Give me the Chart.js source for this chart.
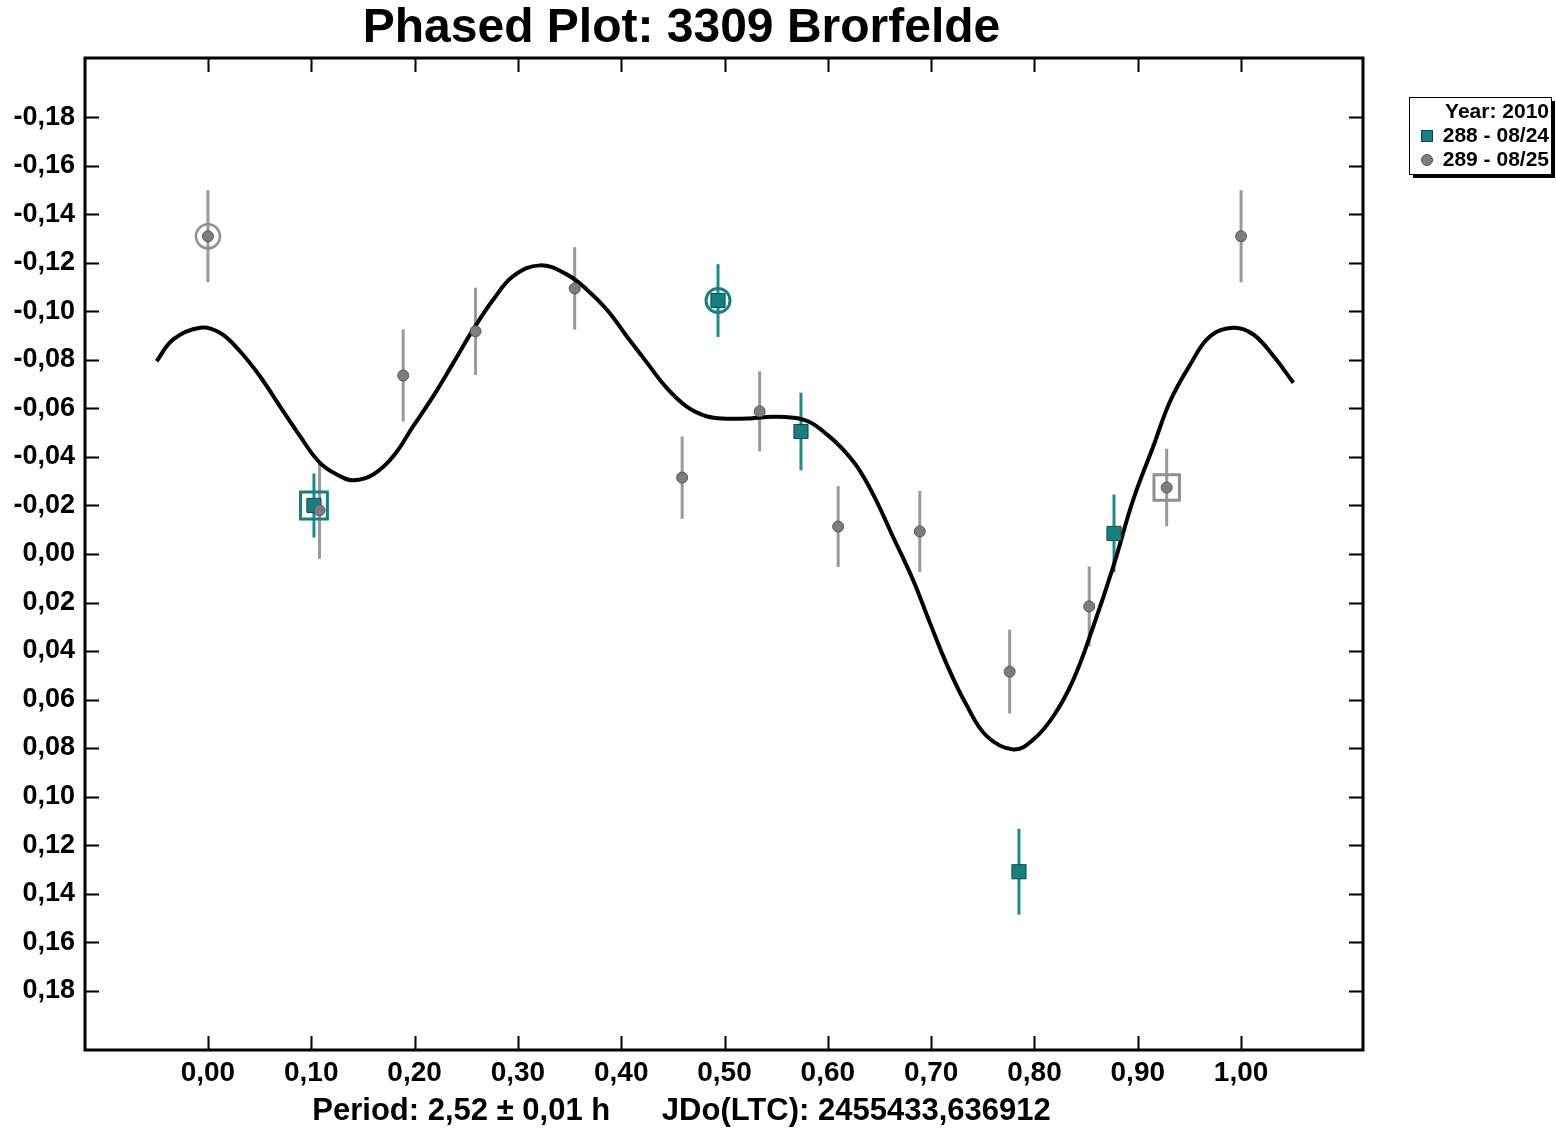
<!DOCTYPE html>
<html>
<head>
<meta charset="utf-8">
<script src="https://cdn.jsdelivr.net/npm/chart.js"></script>
<style>
  html, body { margin: 0; padding: 0; background: #fff; }
  #wrap { width: 1556px; height: 1128px; }
</style>
</head>
<body>
<div id="wrap"><canvas id="myChart" width="1556" height="1128"></canvas></div>
<script>
// data
const xTicks = [0, 0.1, 0.2, 0.3, 0.4, 0.5, 0.6, 0.7, 0.8, 0.9, 1.0];
const yTicks = [-0.18, -0.16, -0.14, -0.12, -0.10, -0.08, -0.06, -0.04, -0.02, 0, 0.02, 0.04, 0.06, 0.08, 0.10, 0.12, 0.14, 0.16, 0.18];

const s288Label = '288 - 08/24';
const s288Phase = [0.1026, 0.4937, 0.574, 0.785, 0.877];
const s288Mag   = [-0.020, -0.1045, -0.0505, 0.131, -0.0085];
const s288Err   = [0.0132, 0.015, 0.016, 0.0177, 0.016];
const s288Ring  = ['rect', 'circle', null, null, null];

const s289Label = '289 - 08/25';
const s289Phase = [0.0, 0.108, 0.189, 0.259, 0.355, 0.459, 0.534, 0.610, 0.689, 0.776, 0.853, 0.928, 1.0];
const s289Mag   = [-0.131, -0.018, -0.0736, -0.0918, -0.1095, -0.0315, -0.0588, -0.0113, -0.0093, 0.0485, 0.0216, -0.0274, -0.131];
const s289Err   = [0.019, 0.020, 0.019, 0.018, 0.017, 0.017, 0.0165, 0.0167, 0.0167, 0.0173, 0.0165, 0.016, 0.019];
const s289Ring  = ['circle', null, null, null, null, null, null, null, null, null, null, 'rect', null];

// fourier fit curve
const fitPhase = [-0.0497, -0.0336, -0.0077, 0.0116, 0.0310, 0.0503, 0.0697, 0.0891, 0.1084, 0.1278, 0.1407, 0.1600,
  0.1794, 0.1987, 0.2181, 0.2375, 0.2568, 0.2762, 0.2955, 0.3214, 0.3472, 0.3666, 0.3860, 0.4053, 0.4247,
  0.4440, 0.4634, 0.4827, 0.5020, 0.5247, 0.5469, 0.5663, 0.5828, 0.5993, 0.6118, 0.6280, 0.6440, 0.6634, 0.6828, 0.6989,
  0.7151, 0.7345, 0.7538, 0.7796, 0.7989, 0.8183, 0.8377, 0.8570, 0.8764, 0.8957, 0.9151, 0.9313, 0.9506, 0.9700,
  0.9925, 1.0119, 1.0313, 1.0506];
const fitMag = [-0.0795, -0.0885, -0.0933, -0.0912, -0.0836, -0.0733, -0.0609, -0.0486, -0.0376, -0.0321, -0.0304, -0.0328,
  -0.0403, -0.0527, -0.0651, -0.0788, -0.0926, -0.1049, -0.1146, -0.1190, -0.1153, -0.1091, -0.1008, -0.0898, -0.0790,
  -0.0685, -0.0608, -0.0568, -0.0558, -0.0559, -0.0566, -0.0562, -0.0543, -0.0492, -0.0444, -0.0362, -0.0245, -0.0068, 0.0110, 0.0285,
  0.0455, 0.0625, 0.0751, 0.0806, 0.0765, 0.0669, 0.0518, 0.0298, 0.0050, -0.0225, -0.0445, -0.0630, -0.0780, -0.0898,
  -0.0933, -0.0905, -0.0816, -0.0706];

const titleText = 'Phased Plot: 3309 Brorfelde';
const footText = 'Period: 2,52 \u00b1 0,01 h      JDo(LTC): 2455433,636912';
const legendTitle = 'Year: 2010';

const FONT = "'Liberation Sans', Arial, sans-serif";
const teal = '#168080';
const tealDark = '#0c4a4a';
const tealBar = '#1f8a8a';
const grey = '#7d7d7d';
const greyDark = '#555555';
const greyBar = '#9a9a9a';

const toPts = (xs, ys) => xs.map((x, i) => ({ x: x, y: ys[i] }));
const ringPts = (xs, ys, rings, kind) => xs.map((x, i) => ({ x: x, y: ys[i] })).filter((p, i) => rings[i] === kind);

const fmt = (v) => {
    if (Math.abs(v) < 1e-9) v = 0;
    return v.toFixed(2).replace('.', ',');
};

// vertical error bars under the markers
const errorBars = {
    id: 'errorBars',
    beforeDatasetsDraw(chart) {
        const { ctx, scales: { x, y } } = chart;
        const sets = [
            [s288Phase, s288Mag, s288Err, tealBar],
            [s289Phase, s289Mag, s289Err, greyBar],
        ];
        ctx.save();
        ctx.lineWidth = 3;
        sets.forEach(([xs, ys, es, col]) => {
            ctx.strokeStyle = col;
            xs.forEach((v, i) => {
                const px = x.getPixelForValue(v);
                ctx.beginPath();
                ctx.moveTo(px, y.getPixelForValue(ys[i] - es[i]));
                ctx.lineTo(px, y.getPixelForValue(ys[i] + es[i]));
                ctx.stroke();
            });
        });
        ctx.restore();
    }
};

// frame with inward ticks on all four sides, plus the boxed legend
const frameAndLegend = {
    id: 'frameAndLegend',
    afterDraw(chart) {
        const { ctx, chartArea: a, scales: { x, y } } = chart;
        ctx.save();
        ctx.strokeStyle = '#000';
        ctx.lineWidth = 2;
        xTicks.forEach(v => {
            const px = Math.round(x.getPixelForValue(v)) + 0.5;
            ctx.beginPath();
            ctx.moveTo(px, a.bottom); ctx.lineTo(px, a.bottom - 14);
            ctx.moveTo(px, a.top); ctx.lineTo(px, a.top + 14);
            ctx.stroke();
        });
        yTicks.forEach(v => {
            const py = Math.round(y.getPixelForValue(v)) + 0.5;
            ctx.beginPath();
            ctx.moveTo(a.left, py); ctx.lineTo(a.left + 14, py);
            ctx.moveTo(a.right, py); ctx.lineTo(a.right - 14, py);
            ctx.stroke();
        });
        ctx.lineWidth = 3;
        ctx.strokeRect(a.left, a.top, a.right - a.left, a.bottom - a.top);

        // legend box
        const lx = 1409, ly = 97, lw = 142, lh = 77;
        ctx.fillStyle = '#000';
        ctx.fillRect(lx + 4, ly + 4, lw, lh);
        ctx.fillStyle = '#fff';
        ctx.fillRect(lx, ly, lw, lh);
        ctx.lineWidth = 1;
        ctx.strokeRect(lx + 0.5, ly + 0.5, lw, lh);

        ctx.fillStyle = '#000';
        ctx.font = 'bold 21px ' + FONT;
        ctx.textAlign = 'right';
        ctx.textBaseline = 'middle';
        ctx.fillText(legendTitle, 1549, 112);
        ctx.fillText(s288Label, 1549, 136);
        ctx.fillText(s289Label, 1549, 160);

        ctx.fillStyle = teal;
        ctx.strokeStyle = tealDark;
        ctx.fillRect(1421, 130, 12, 12);
        ctx.strokeRect(1421.5, 130.5, 11, 11);
        ctx.fillStyle = grey;
        ctx.strokeStyle = greyDark;
        ctx.beginPath();
        ctx.arc(1427, 160, 5.5, 0, Math.PI * 2);
        ctx.fill();
        ctx.stroke();
        ctx.restore();
    }
};

const ctx = document.getElementById('myChart').getContext('2d');
new Chart(ctx, {
    type: 'scatter',
    data: {
        datasets: [
            {
                label: s288Label + ' ring',
                data: ringPts(s288Phase, s288Mag, s288Ring, 'rect'),
                pointStyle: 'rect', pointRadius: 19, borderWidth: 3,
                borderColor: teal, backgroundColor: 'rgba(0,0,0,0)', order: 1
            },
            {
                label: s288Label + ' ring2',
                data: ringPts(s288Phase, s288Mag, s288Ring, 'circle'),
                pointStyle: 'circle', pointRadius: 12, borderWidth: 3,
                borderColor: teal, backgroundColor: 'rgba(0,0,0,0)', order: 1
            },
            {
                label: s289Label + ' ring',
                data: ringPts(s289Phase, s289Mag, s289Ring, 'rect'),
                pointStyle: 'rect', pointRadius: 18, borderWidth: 3,
                borderColor: '#8f8f8f', backgroundColor: 'rgba(0,0,0,0)', order: 1
            },
            {
                label: s289Label + ' ring2',
                data: ringPts(s289Phase, s289Mag, s289Ring, 'circle'),
                pointStyle: 'circle', pointRadius: 12, borderWidth: 2.5,
                borderColor: '#8f8f8f', backgroundColor: 'rgba(0,0,0,0)', order: 1
            },
            {
                label: s289Label,
                data: toPts(s289Phase, s289Mag),
                pointStyle: 'circle', pointRadius: 5.5, borderWidth: 1,
                borderColor: greyDark, backgroundColor: grey, order: 2
            },
            {
                label: s288Label,
                data: toPts(s288Phase, s288Mag),
                pointStyle: 'rect', pointRadius: 10, borderWidth: 1,
                borderColor: tealDark, backgroundColor: teal, order: 2
            },
            {
                label: 'fit',
                type: 'line',
                data: toPts(fitPhase, fitMag),
                borderColor: '#000', borderWidth: 4,
                pointRadius: 0, fill: false,
                tension: 0.4, order: 10
            }
        ]
    },
    options: {
        responsive: false,
        animation: false,
        layout: { padding: { left: 0, right: 193, top: 0, bottom: 0 } },
        plugins: {
            legend: { display: false },
            tooltip: { enabled: false },
            title: {
                display: true,
                text: titleText,
                color: '#000',
                font: { family: FONT, size: 48, weight: 'bold', lineHeight: 1.0 },
                padding: { top: 5, bottom: 5 }
            },
            subtitle: {
                display: true,
                position: 'bottom',
                text: footText,
                color: '#000',
                font: { family: FONT, size: 31, weight: 'bold', lineHeight: 1.0 },
                padding: { top: 5, bottom: 1 }
            }
        },
        scales: {
            x: {
                type: 'linear',
                min: -0.119,
                max: 1.118,
                afterBuildTicks: (s) => { s.ticks = xTicks.map(v => ({ value: v })); },
                afterFit: (s) => { s.height = 41; },
                grid: { display: false, drawTicks: false },
                border: { display: false },
                ticks: {
                    padding: 6,
                    color: '#000',
                    font: { family: FONT, size: 28, weight: 'bold' },
                    callback: (v) => fmt(v)
                }
            },
            y: {
                type: 'linear',
                reverse: true,
                min: -0.2045,
                max: 0.2045,
                afterBuildTicks: (s) => { s.ticks = yTicks.map(v => ({ value: v })); },
                afterFit: (s) => { s.width = 85; },
                grid: { display: false, drawTicks: false },
                border: { display: false },
                ticks: {
                    padding: 10,
                    color: '#000',
                    font: { family: FONT, size: 27, weight: 'bold' },
                    callback: (v) => fmt(v)
                }
            }
        }
    },
    plugins: [errorBars, frameAndLegend]
});
</script>
</body>
</html>
